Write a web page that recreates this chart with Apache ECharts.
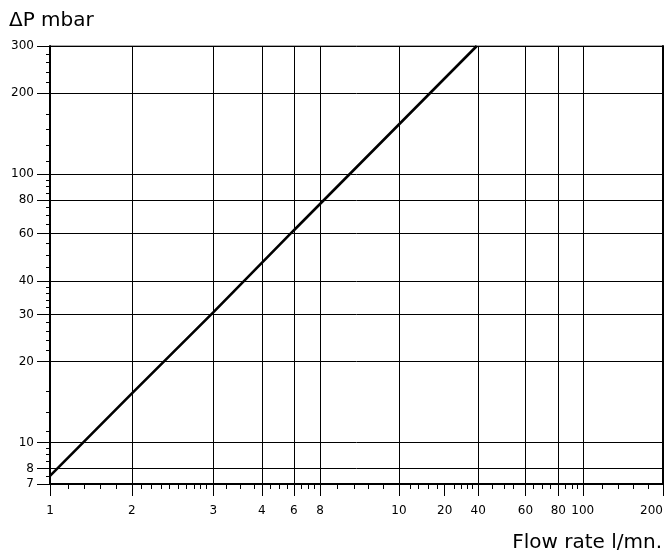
<!DOCTYPE html>
<html><head><meta charset="utf-8">
<script src="https://cdn.jsdelivr.net/npm/echarts@6/dist/echarts.min.js"></script>
<style>html,body{margin:0;padding:0;background:#fff}#c{width:670px;height:556px}</style>
</head><body><div id="c"></div>
<script>
// ---- data ----
const flowRate     = [1, 2, 4.1, 8.2, 20.4, 40];
const pressureDrop = [7.5, 15, 30.5, 61.5, 153, 300];

// x axis: positions (flow-rate scale) and the texts printed there
const xLabelValues = [1, 2.03, 4.1, 6.24, 8.23, 10.33, 20.4, 30.3, 40.5, 60.9, 80.9, 100, 200];
const xLabelTexts  = ['1','2','3','4','6','8','10','20','40','60','80','100','200'];
const xGridValues  = [2.03, 4.1, 6.24, 8.23, 10.33, 20.4, 40.5, 60.9, 80.9, 100];
const xMinorValues = [1.17,1.35,1.55,1.77, 2.21,2.40,2.61,2.81,3.03,3.26,3.48,3.68,3.85,
                      4.57,5.17,5.84, 6.71,7.27,7.75, 8.77,9.29,9.84,
                      11.94,13.87,15.69,17.87, 22.5,24.2,26.4,28.4, 32.9,34.9,36.8,38.4,
                      45.6,50.5,55.0, 65.2,70.3,75.5, 86.0,91.2,95.2, 118.2,136.4,155.3,176.8];

// y axis
const yLabelValues = [7, 8, 10, 20, 30, 40, 60, 80, 100, 200, 300];
const yLabelTexts  = ['7','8','10','20','30','40','60','80','100','200','300'];
const yMinorValues = [7.5, 8.5, 9, 9.5, 11, 13, 15.5, 22, 24, 26, 28, 32, 34, 36, 38,
                      45, 50, 55, 65, 70, 75, 85, 90, 95, 112, 128, 147, 167, 220, 240, 260, 280];

const FONT = 'DejaVu Sans';
function lookup(vals, texts, v) {
  let best = 0, bd = Infinity;
  for (let i = 0; i < vals.length; i++) {
    const d = Math.abs(Math.log(vals[i]) - Math.log(v));
    if (d < bd) { bd = d; best = i; }
  }
  return texts[best];
}

const chart = echarts.init(document.getElementById('c'), null, {renderer: 'canvas'});
const baseX = {type: 'log', logBase: 10, min: 1, max: 200, position: 'bottom'};
const baseY = {type: 'log', logBase: 10, min: 7, max: 300, position: 'left'};

chart.setOption({
  animation: false,
  backgroundColor: '#fff',
  title: [
    {text: 'ΔP mbar', left: 4, top: 6,
     textStyle: {fontFamily: FONT, fontSize: 20, fontWeight: 'normal', color: '#000'}},
    {text: 'Flow rate l/mn.', right: 3, top: 528,
     textStyle: {fontFamily: FONT, fontSize: 20, fontWeight: 'normal', color: '#000'}}
  ],
  grid: {left: 50, right: 7, top: 46, bottom: 72, show: true,
         borderColor: '#555', borderWidth: 1, containLabel: false, outerBoundsMode: 'none'},
  xAxis: [
    Object.assign({}, baseX, {
      axisLine: {show: true, onZero: false, lineStyle: {color: '#000', width: 2}},
      axisTick: {show: true, length: 12, customValues: xLabelValues, lineStyle: {color: '#000', width: 1}},
      axisLabel: {show: true, customValues: xLabelValues, margin: 21, alignMaxLabel: 'right',
                  formatter: v => lookup(xLabelValues, xLabelTexts, v),
                  fontFamily: FONT, fontSize: 12, color: '#000'},
      splitLine: {show: false}
    }),
    Object.assign({}, baseX, {
      axisLine: {show: false, onZero: false},
      axisTick: {show: true, length: 5, customValues: xMinorValues, lineStyle: {color: '#000', width: 1}},
      axisLabel: {show: false},
      splitLine: {show: false}
    }),
    Object.assign({}, baseX, {
      axisLine: {show: false, onZero: false},
      axisTick: {show: false, customValues: xGridValues},
      axisLabel: {show: false},
      splitLine: {show: true, lineStyle: {color: '#000', width: 1}}
    })
  ],
  yAxis: [
    Object.assign({}, baseY, {
      axisLine: {show: true, onZero: false, lineStyle: {color: '#000', width: 2}},
      axisTick: {show: true, length: 13, customValues: yLabelValues, lineStyle: {color: '#000', width: 1}},
      axisLabel: {show: true, customValues: yLabelValues, margin: 16,
                  formatter: v => lookup(yLabelValues, yLabelTexts, v),
                  fontFamily: FONT, fontSize: 12, color: '#000'},
      splitLine: {show: true, lineStyle: {color: '#000', width: 1}}
    }),
    Object.assign({}, baseY, {
      axisLine: {show: false, onZero: false},
      axisTick: {show: true, length: 4, customValues: yMinorValues, lineStyle: {color: '#000', width: 1}},
      axisLabel: {show: false},
      splitLine: {show: false}
    }),
    Object.assign({}, baseY, {
      position: 'right',
      axisLine: {show: true, onZero: false, lineStyle: {color: '#000', width: 2}},
      axisTick: {show: false},
      axisLabel: {show: false},
      splitLine: {show: false}
    })
  ],
  series: [{
    type: 'line',
    xAxisIndex: 0, yAxisIndex: 0,
    data: flowRate.map((x, i) => [x, pressureDrop[i]]),
    showSymbol: false, symbol: 'none',
    lineStyle: {color: '#000', width: 2.6},
    clip: true
  }]
});
</script></body></html>
